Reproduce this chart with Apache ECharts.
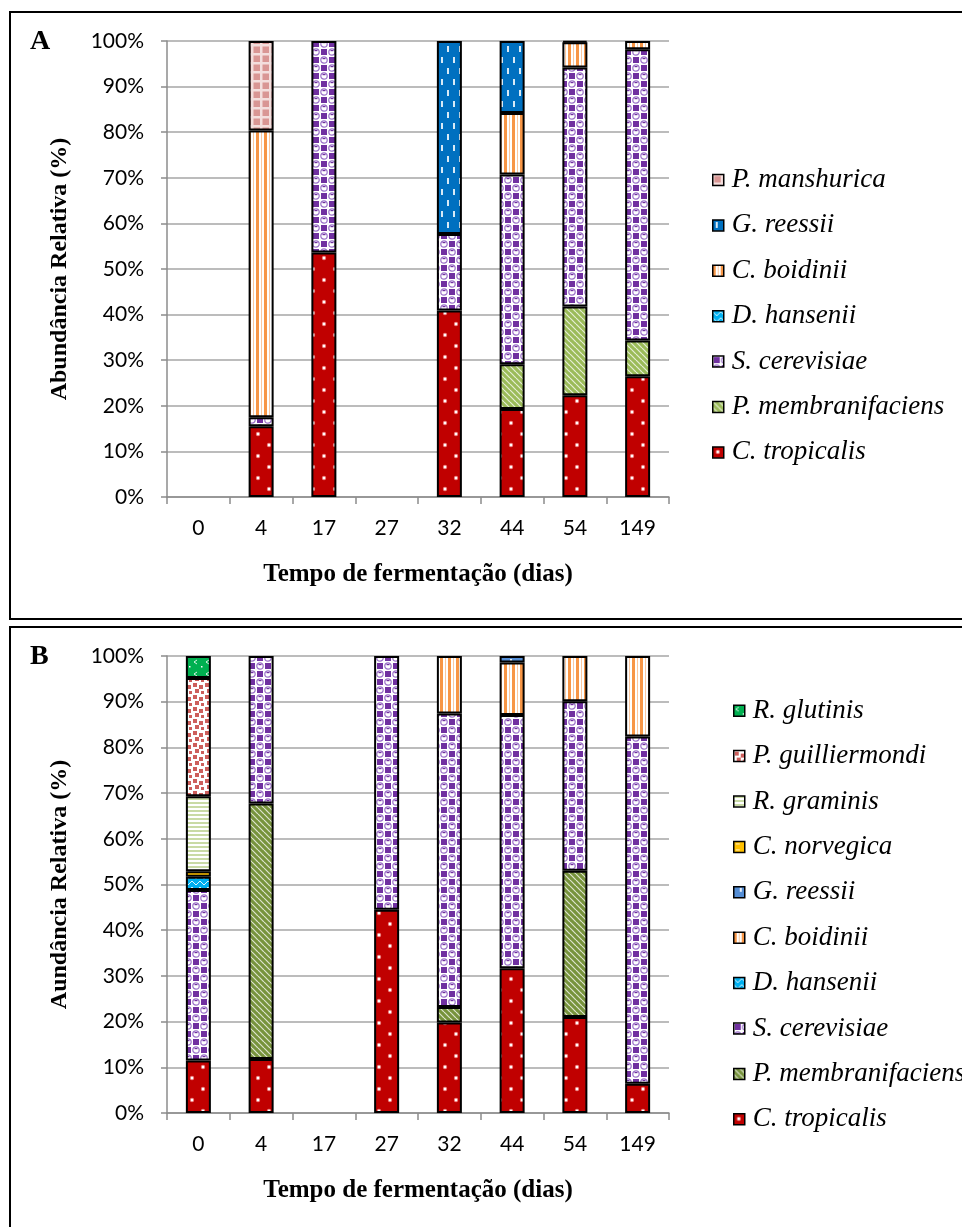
<!DOCTYPE html>
<html><head><meta charset="utf-8">
<script src="https://cdn.jsdelivr.net/npm/echarts@6/dist/echarts.min.js"></script>
<style>html,body{margin:0;padding:0;background:#fff;}
#a{position:absolute;left:0;top:0;width:962px;height:622px;}
#b{position:absolute;left:0;top:622px;width:962px;height:605px;}</style>
</head><body><div id="a"></div><div id="b"></div>
<script>
// ---------- data ----------
const categories = ['0', '4', '17', '27', '32', '44', '54', '149'];
const yTickLabels = ['0%', '10%', '20%', '30%', '40%', '50%', '60%', '70%', '80%', '90%', '100%'];

// Panel A
const aTropicalis      = [0, 15.5, 53.6, 0, 40.9, 19.3, 22.3, 26.5];
const aMembranifaciens = [0, 0, 0, 0, 0, 9.8, 19.5, 7.8];
const aCerevisiae      = [0, 2.0, 46.4, 0, 16.8, 41.6, 52.4, 63.9];
const aHansenii        = [0, 0, 0, 0, 0, 0, 0, 0];
const aBoidinii        = [0, 62.9, 0, 0, 0, 13.5, 5.5, 1.8];
const aReessii         = [0, 0, 0, 0, 42.3, 15.8, 0.3, 0];
const aManshurica      = [0, 19.6, 0, 0, 0, 0, 0, 0];

// Panel B
const bTropicalis      = [11.5, 11.8, 0, 44.5, 19.8, 31.7, 21.0, 6.4];
const bMembranifaciens = [0, 55.9, 0, 0, 3.4, 0, 32.0, 0];
const bCerevisiae      = [37.3, 32.3, 0, 55.5, 64.2, 55.4, 37.1, 76.0];
const bHansenii        = [2.9, 0, 0, 0, 0, 0, 0, 0];
const bBoidinii        = [0, 0, 0, 0, 12.6, 11.5, 9.9, 17.6];
const bReessii         = [0, 0, 0, 0, 0, 1.4, 0, 0];
const bNorvegica       = [1.2, 0, 0, 0, 0, 0, 0, 0];
const bGraminis        = [16.4, 0, 0, 0, 0, 0, 0, 0];
const bGuilliermondi   = [25.9, 0, 0, 0, 0, 0, 0, 0];
const bGlutinis        = [4.8, 0, 0, 0, 0, 0, 0, 0];

// ---------- patterns ----------
function tile(w, h, draw) {
  const c = document.createElement('canvas'); c.width = w; c.height = h;
  const g = c.getContext('2d'); draw(g, w, h);
  return { image: c, repeat: 'repeat' };
}
function diag(col) {
  return tile(6, 6, (g) => {
    g.fillStyle = col; g.fillRect(0, 0, 6, 6);
    g.strokeStyle = 'rgba(255,255,255,0.75)'; g.lineWidth = 1.2;
    for (let k = -1; k <= 1; k++) { g.beginPath(); g.moveTo(k * 6, 0); g.lineTo(k * 6 + 6, 6); g.stroke(); }
  });
}
const P = {
  tropicalis: tile(22, 22, (g) => {
    g.fillStyle = '#C00000'; g.fillRect(0, 0, 22, 22);
    [[5, 5], [16, 16]].forEach(([x, y]) => {
      g.fillStyle = 'rgba(255,180,180,0.7)'; g.beginPath(); g.arc(x, y, 2.2, 0, 7); g.fill();
      g.fillStyle = '#fff'; g.beginPath(); g.arc(x, y, 1.2, 0, 7); g.fill();
    });
  }),
  membA: diag('#9BBB59'),
  membB: diag('#77933C'),
  cerevisiae: tile(16, 16, (g) => {
    g.fillStyle = '#fff'; g.fillRect(0, 0, 16, 16);
    g.fillStyle = '#7030A0';
    g.fillRect(1, 1, 6, 6); g.fillRect(9, 9, 6, 6);
    g.strokeStyle = '#9A70C8'; g.lineWidth = 1.2;
    [[12, 4], [4, 12]].forEach(([x, y]) => {
      g.beginPath(); g.arc(x, y, 3.2, 0, 7); g.stroke();
      g.fillStyle = '#7030A0'; g.fillRect(x - 1.5, y - 2, 3, 1.2);
    });
  }),
  hansenii: tile(8, 6, (g) => {
    g.fillStyle = '#00B0F0'; g.fillRect(0, 0, 8, 6);
    g.strokeStyle = 'rgba(255,255,255,0.85)'; g.lineWidth = 1;
    g.beginPath(); g.moveTo(0, 1); g.lineTo(4, 5); g.lineTo(8, 1); g.stroke();
  }),
  boidinii: tile(8, 4, (g) => {
    g.fillStyle = '#fff'; g.fillRect(0, 0, 8, 4);
    g.fillStyle = '#F79646'; g.fillRect(0, 0, 3, 4);
    g.fillStyle = '#FBC8A0'; g.fillRect(5, 0, 1, 4);
  }),
  reessiiA: tile(12, 22, (g) => {
    g.fillStyle = '#0070C0'; g.fillRect(0, 0, 12, 22);
    g.fillStyle = 'rgba(255,255,255,0.85)';
    g.fillRect(3, 2, 2, 6); g.fillRect(9, 13, 2, 6);
  }),
  reessiiB: tile(14, 12, (g) => {
    g.fillStyle = '#558ED5'; g.fillRect(0, 0, 14, 12);
    g.fillStyle = 'rgba(255,255,255,0.85)'; g.fillRect(6, 1, 2, 4);
  }),
  manshurica: tile(9, 9, (g) => {
    g.fillStyle = '#F3DEDD'; g.fillRect(0, 0, 9, 9);
    g.fillStyle = '#D99694'; g.fillRect(1.5, 1.5, 6.5, 6.5);
  }),
  norvegica: tile(10, 6, (g) => {
    g.fillStyle = '#FFC000'; g.fillRect(0, 0, 10, 6);
    g.fillStyle = 'rgba(255,255,255,0.8)'; g.fillRect(2, 2, 4, 1);
  }),
  graminis: tile(4, 4, (g) => {
    g.fillStyle = '#fff'; g.fillRect(0, 0, 4, 4);
    g.fillStyle = '#C9DAA5'; g.fillRect(0, 0, 4, 2);
  }),
  guilliermondi: tile(12, 12, (g) => {
    g.fillStyle = '#fff'; g.fillRect(0, 0, 12, 12);
    g.fillStyle = '#CD5F5C';
    g.fillRect(1, 1, 4, 4); g.fillRect(7, 3, 4, 4); g.fillRect(3, 7, 4, 4); g.fillRect(9, 9, 3, 3);
  }),
  glutinis: tile(12, 12, (g) => {
    g.fillStyle = '#00B050'; g.fillRect(0, 0, 12, 12);
    g.strokeStyle = 'rgba(255,255,255,0.85)'; g.lineWidth = 1;
    g.beginPath(); g.moveTo(5, 2); g.lineTo(2, 4); g.lineTo(5, 6); g.stroke();
    g.fillStyle = '#fff'; g.fillRect(9, 8, 1.5, 1.5);
  })
};

// ---------- builders ----------
const GRAY = '#8C8C8C';
const tickFont = 'Lato';
function clean(arr) { return arr.map(v => (v === 0 ? null : v)); }
function mkSeries(name, arr, color) {
  return {
    name, type: 'bar', stack: 'total', data: clean(arr), barWidth: 25,
    itemStyle: { color, borderColor: '#000', borderWidth: 2 },
    emphasis: { disabled: true }, animation: false
  };
}
function baseOption(gridTop, gridH, yName, series, legendNames, legendLeft, legendTop, frameY, letter, letterY) {
  return {
    animation: false,
    grid: { left: 167, top: gridTop, width: 502, height: gridH },
    xAxis: {
      type: 'category', data: categories,
      axisLine: { lineStyle: { color: GRAY, width: 1.5 } },
      axisTick: { show: true, length: 7, lineStyle: { color: GRAY, width: 1.5 } },
      axisLabel: { color: '#000', fontFamily: tickFont, fontSize: 21, margin: 21 },
      name: 'Tempo de fermentação (dias)', nameLocation: 'middle', nameGap: 65,
      nameTextStyle: { color: '#000', fontFamily: 'Liberation Serif', fontWeight: 'bold', fontSize: 25 }
    },
    yAxis: {
      type: 'value', min: 0, max: 100, interval: 10,
      axisLine: { show: true, lineStyle: { color: GRAY, width: 1.5 } },
      axisTick: { show: true, length: 6, lineStyle: { color: GRAY, width: 1.5 } },
      splitLine: { lineStyle: { color: '#A6A6A6', width: 1.5 } },
      axisLabel: { color: '#000', fontFamily: tickFont, fontSize: 21, margin: 23, formatter: v => yTickLabels[Math.round(v / 10)] },
      name: yName, nameLocation: 'middle', nameGap: 95,
      nameTextStyle: { color: '#000', fontFamily: 'Liberation Serif', fontWeight: 'bold', fontSize: 24 }
    },
    legend: {
      orient: 'vertical', left: legendLeft, top: legendTop, data: legendNames, padding: 0,
      icon: 'rect', itemWidth: 11, itemHeight: 11, itemGap: 18.4,
      itemStyle: { borderColor: '#000', borderWidth: 1.5 },
      textStyle: { color: '#000', fontFamily: 'Liberation Serif', fontStyle: 'italic', fontSize: 27, lineHeight: 27, padding: [0, 0, 0, 3] },
      selectedMode: false
    },
    graphic: [
      { type: 'rect', shape: { x: 10, y: frameY, width: 1000, height: 607 }, style: { fill: 'none', stroke: '#000', lineWidth: 2 }, silent: true },
      { type: 'text', x: 30, y: letterY, style: { text: letter, font: 'bold 28px "Liberation Serif"', fill: '#000' }, silent: true }
    ],
    series
  };
}

const seriesA = [
  mkSeries('C. tropicalis', aTropicalis, P.tropicalis),
  mkSeries('P. membranifaciens', aMembranifaciens, P.membA),
  mkSeries('S. cerevisiae', aCerevisiae, P.cerevisiae),
  mkSeries('D. hansenii', aHansenii, P.hansenii),
  mkSeries('C. boidinii', aBoidinii, P.boidinii),
  mkSeries('G. reessii', aReessii, P.reessiiA),
  mkSeries('P. manshurica', aManshurica, P.manshurica)
];
const seriesB = [
  mkSeries('C. tropicalis', bTropicalis, P.tropicalis),
  mkSeries('P. membranifaciens', bMembranifaciens, P.membB),
  mkSeries('S. cerevisiae', bCerevisiae, P.cerevisiae),
  mkSeries('D. hansenii', bHansenii, P.hansenii),
  mkSeries('C. boidinii', bBoidinii, P.boidinii),
  mkSeries('G. reessii', bReessii, P.reessiiB),
  mkSeries('C. norvegica', bNorvegica, P.norvegica),
  mkSeries('R. graminis', bGraminis, P.graminis),
  mkSeries('P. guilliermondi', bGuilliermondi, P.guilliermondi),
  mkSeries('R. glutinis', bGlutinis, P.glutinis)
];

const chartA = echarts.init(document.getElementById('a'), null, { renderer: 'canvas' });
chartA.setOption(baseOption(41, 456, 'Abundância Relativa (%)', seriesA,
  seriesA.map(s => s.name).reverse(), 712, 166.5, 12, 'A', 28));
const chartB = echarts.init(document.getElementById('b'), null, { renderer: 'canvas' });
chartB.setOption(baseOption(34, 457, 'Aundância Relativa (%)', seriesB,
  seriesB.map(s => s.name).reverse(), 733, 75.2, 5, 'B', 21));
</script></body></html>
